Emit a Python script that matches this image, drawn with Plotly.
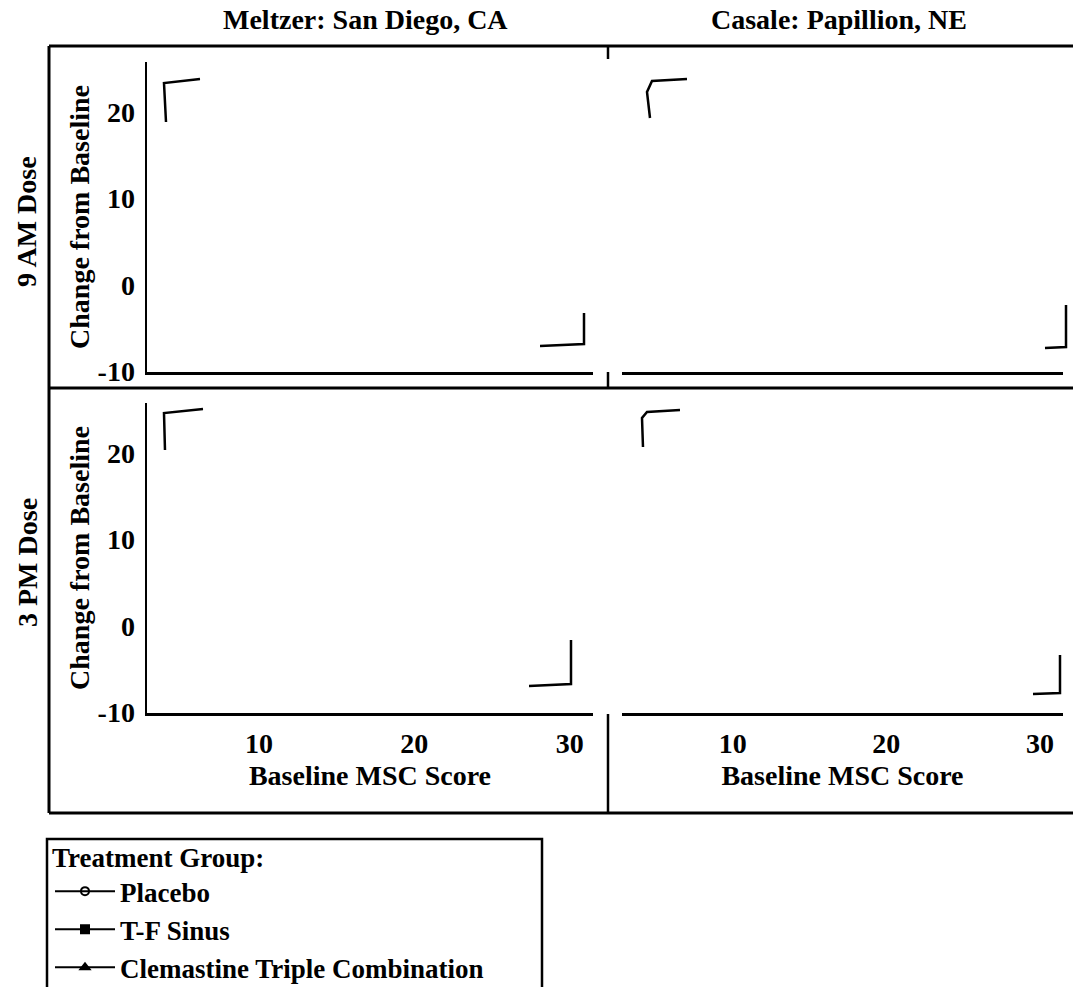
import plotly.graph_objects as go

W, H = 1073, 987

# ---------------- data ----------------
sites = ["Meltzer: San Diego, CA", "Casale: Papillion, NE"]
doses = ["9 AM Dose", "3 PM Dose"]
treatments = ["Placebo", "T-F Sinus", "Clemastine Triple Combination"]
treatment_symbols = ["circle-open", "square", "triangle-up"]

# No data points are visible in any panel of the source image.
placebo_baseline = []
placebo_change = []
tfsinus_baseline = []
tfsinus_change = []
clemastine_baseline = []
clemastine_change = []

x_tick_values = [10, 20, 30]
x_tick_labels = ["10", "20", "30"]
y_tick_values = [-10, 0, 10, 20]
y_tick_labels = ["-10", "0", "10", "20"]
x_axis_range = [2.8, 31.5]
y_axis_range = [-10.1, 25.8]
x_axis_title = "Baseline MSC Score"
y_axis_title = "Change from Baseline"
legend_title = "Treatment Group:"

series_x = [placebo_baseline, tfsinus_baseline, clemastine_baseline]
series_y = [placebo_change, tfsinus_change, clemastine_change]

# ---------------- layout helpers ----------------
FONT = "Liberation Serif"
FS = 28
LFS = 27


def fx(px):
    return px / W


def fy(py):
    return 1 - py / H


col_dom = [[fx(147), fx(593)], [fx(622), fx(1063)]]
row_dom = [[fy(372), fy(62)], [fy(713), fy(403)]]

fig = go.Figure()

panel = 0
for r in range(2):
    for c in range(2):
        idx = panel + 1
        xa = "x" if idx == 1 else f"x{idx}"
        ya = "y" if idx == 1 else f"y{idx}"
        for t, sym, xs, ys in zip(treatments, treatment_symbols, series_x, series_y):
            fig.add_trace(go.Scatter(
                x=xs if len(xs) else [None], y=ys if len(ys) else [None],
                mode="lines+markers", name=t, legendgroup=t,
                showlegend=(panel == 0),
                line=dict(color="black", width=2),
                marker=dict(symbol=sym, size=8, color="black",
                            line=dict(color="black", width=2)),
                xaxis=xa, yaxis=ya, hoverinfo="skip"))
        tickfont = dict(family=FONT, size=FS, color="black", weight="bold")
        xkey = "xaxis" if idx == 1 else f"xaxis{idx}"
        ykey = "yaxis" if idx == 1 else f"yaxis{idx}"
        fig.layout[xkey] = dict(
            domain=col_dom[c], anchor=ya, range=x_axis_range,
            tickvals=x_tick_values, ticktext=x_tick_labels, ticks="",
            showgrid=False, zeroline=False,
            showline=True, linecolor="black", linewidth=2.5,
            showticklabels=(r == 1), tickfont=tickfont, ticklabelstandoff=4,
            title=dict(text=x_axis_title if r == 1 else "",
                       font=dict(family=FONT, size=FS, color="black", weight="bold"),
                       standoff=8),
            automargin=False, fixedrange=True)
        fig.layout[ykey] = dict(
            domain=row_dom[r], anchor=xa, range=y_axis_range,
            tickvals=y_tick_values, ticktext=y_tick_labels, ticks="",
            showgrid=False, zeroline=False,
            showline=(c == 0), linecolor="black", linewidth=2.5,
            showticklabels=(c == 0), tickfont=tickfont, ticklabelstandoff=4,
            title=dict(text=y_axis_title if c == 0 else "",
                       font=dict(family=FONT, size=FS, color="black", weight="bold"),
                       standoff=0),
            automargin=False, fixedrange=True)
        panel += 1

annotations = []
for c, s in enumerate(sites):
    annotations.append(dict(
        text=s, xref="paper", yref="paper",
        x=(col_dom[c][0] + col_dom[c][1]) / 2 - fx(4), y=fy(20),
        xanchor="center", yanchor="middle", showarrow=False,
        font=dict(family=FONT, size=FS, color="black", weight="bold")))
row_centers = [222, 563]
for r, d in enumerate(doses):
    annotations.append(dict(
        text=d, xref="paper", yref="paper", x=fx(27), y=fy(row_centers[r]),
        xanchor="center", yanchor="middle", textangle=-90, showarrow=False,
        font=dict(family=FONT, size=FS, color="black", weight="bold")))


def seg(x0, y0, x1, y1, w=3):
    return dict(type="line", xref="paper", yref="paper",
                x0=fx(x0), y0=fy(y0), x1=fx(x1), y1=fy(y1),
                line=dict(color="black", width=w))


def path(pts, w=2.5):
    d = "M " + " L ".join(f"{fx(a):.5f},{fy(b):.5f}" for a, b in pts)
    return dict(type="path", xref="paper", yref="paper", path=d,
                line=dict(color="black", width=w))


shapes = [
    # outer frame and dividers
    seg(49, 46, 1075, 46),
    seg(49, 46, 49, 813),
    seg(49, 813, 1075, 813),
    seg(49, 388, 1075, 388),
    seg(608, 46, 608, 59, 2.5),
    seg(608, 372, 608, 388, 2.5),
    seg(608, 714, 608, 813, 2.5),
    # scanner corner marks
    path([(166, 122), (164, 83), (200, 79)]),
    path([(650, 118), (647, 92), (652, 81), (687, 79)]),
    path([(165, 450), (164, 413), (203, 409)]),
    path([(643, 447), (642, 418), (647, 412), (680, 410)]),
    path([(540, 346), (584, 344), (584, 313)]),
    path([(1045, 348), (1066, 347), (1066, 305)]),
    path([(529, 686), (571, 684), (571, 640)]),
    path([(1033, 694), (1060, 693), (1060, 655)]),
    # legend box
    dict(type="rect", xref="paper", yref="paper",
         x0=fx(47), y0=fy(995), x1=fx(542), y1=fy(839),
         line=dict(color="black", width=2.5)),
]

fig.update_layout(
    width=W, height=H, autosize=False,
    margin=dict(l=0, r=0, t=0, b=0, autoexpand=False),
    paper_bgcolor="white", plot_bgcolor="white",
    font=dict(family=FONT, size=FS, color="black", weight="bold"),
    annotations=annotations, shapes=shapes,
    showlegend=True,
    legend=dict(
        x=fx(50), y=fy(832), xanchor="left", yanchor="top",
        bgcolor="rgba(0,0,0,0)", borderwidth=0,
        font=dict(family=FONT, size=LFS, color="black", weight="bold"),
        title=dict(text=legend_title,
                   font=dict(family=FONT, size=LFS, color="black", weight="bold")),
        tracegroupgap=0, itemwidth=60, itemclick=False, itemdoubleclick=False),
)

fig.write_html("out.html", config={"displayModeBar": False, "staticPlot": True},
               post_script="document.body.style.margin='0';document.body.style.overflow='hidden';")
